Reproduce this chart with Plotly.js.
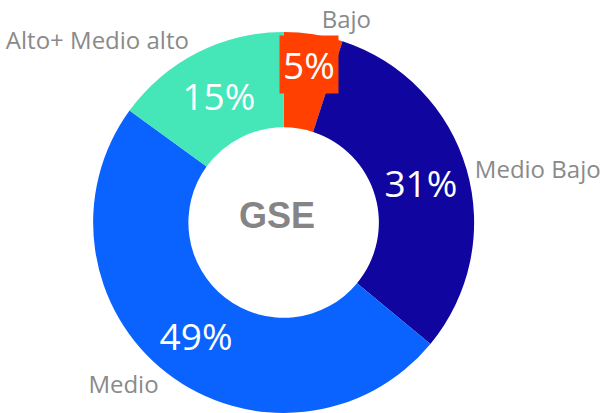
<!DOCTYPE html>
<html>
<head>
<meta charset="utf-8">
<script src="https://cdn.plot.ly/plotly-3.0.1.min.js"></script>
<style>html,body{margin:0;padding:0;background:#fff;}#chart{width:608px;height:413px;}</style>
</head>
<body>
<div id="chart"></div>
<script>
const categories = ["Bajo", "Medio Bajo", "Medio", "Alto+ Medio alto"];
const shares = [5, 31, 49, 15];
const colors = ["#FF4000", "#10069F", "#0A63FF", "#45E6B8"];
const centerTitle = "GSE";

const W = 608, H = 413;
const dom = {x: [0.153, 0.780], y: [0.0, 0.9225]};
const fontFam = "'Open Sans', 'Noto Sans', sans-serif";

const total = shares.reduce((a, b) => a + b, 0);
const pctText = shares.map(v => Math.round(100 * v / total) + "%");
// the smallest slice gets its label drawn as a boxed annotation (as in the reference)
const texts = pctText.map((t, i) => i === 0 ? "" : t);

// geometry of the pie (pixels) to place the boxed label of the first slice
const cx = (dom.x[0] + dom.x[1]) / 2 * W;
const cy = H - (dom.y[0] + dom.y[1]) / 2 * H;
const R = Math.min((dom.x[1] - dom.x[0]) * W, (dom.y[1] - dom.y[0]) * H) / 2;
const midAng = (shares[0] / total) * Math.PI; // clockwise from 12 o'clock
const rr = 0.84 * R;
const bx = (cx + rr * Math.sin(midAng)) / W;
const by = 1 - (cy - rr * Math.cos(midAng)) / H;

const traces = [
  {
    type: "pie",
    labels: categories,
    values: shares,
    sort: false,
    direction: "clockwise",
    rotation: 0,
    hole: 0.5,
    domain: dom,
    marker: {colors: colors, line: {width: 0}},
    text: texts,
    textinfo: "text",
    textposition: "inside",
    insidetextorientation: "horizontal",
    insidetextfont: {color: "#ffffff", size: 37, family: fontFam},
    showlegend: false
  },
  {
    type: "pie",
    labels: categories,
    values: shares,
    sort: false,
    direction: "clockwise",
    rotation: 0,
    hole: 0.5,
    domain: dom,
    marker: {colors: ["rgba(0,0,0,0)","rgba(0,0,0,0)","rgba(0,0,0,0)","rgba(0,0,0,0)"], line: {width: 0}},
    textinfo: "label",
    textposition: "outside",
    outsidetextfont: {color: "#8a8a8a", size: 24, family: fontFam},
    automargin: false,
    showlegend: false,
    hoverinfo: "skip"
  }
];

const layout = {
  width: W, height: H,
  margin: {l: 0, r: 0, t: 0, b: 0},
  paper_bgcolor: "#ffffff",
  showlegend: false,
  annotations: [
    {
      text: "<b>" + centerTitle + "</b>",
      x: (dom.x[0] + dom.x[1]) / 2, y: (dom.y[0] + dom.y[1]) / 2,
      xref: "paper", yref: "paper", showarrow: false,
      xanchor: "center", yanchor: "middle",
      xshift: -7, yshift: 7,
      font: {family: "Arial, 'Liberation Sans', sans-serif", size: 36, color: "#858585"}
    },
    {
      text: pctText[0],
      x: bx, y: by, xref: "paper", yref: "paper", showarrow: false,
      xanchor: "center", yanchor: "middle",
      bgcolor: colors[0], borderpad: 3,
      font: {family: fontFam, size: 37, color: "#ffffff"}
    }
  ]
};

Plotly.newPlot("chart", traces, layout, {displayModeBar: false, staticPlot: true});
</script>
</body>
</html>
